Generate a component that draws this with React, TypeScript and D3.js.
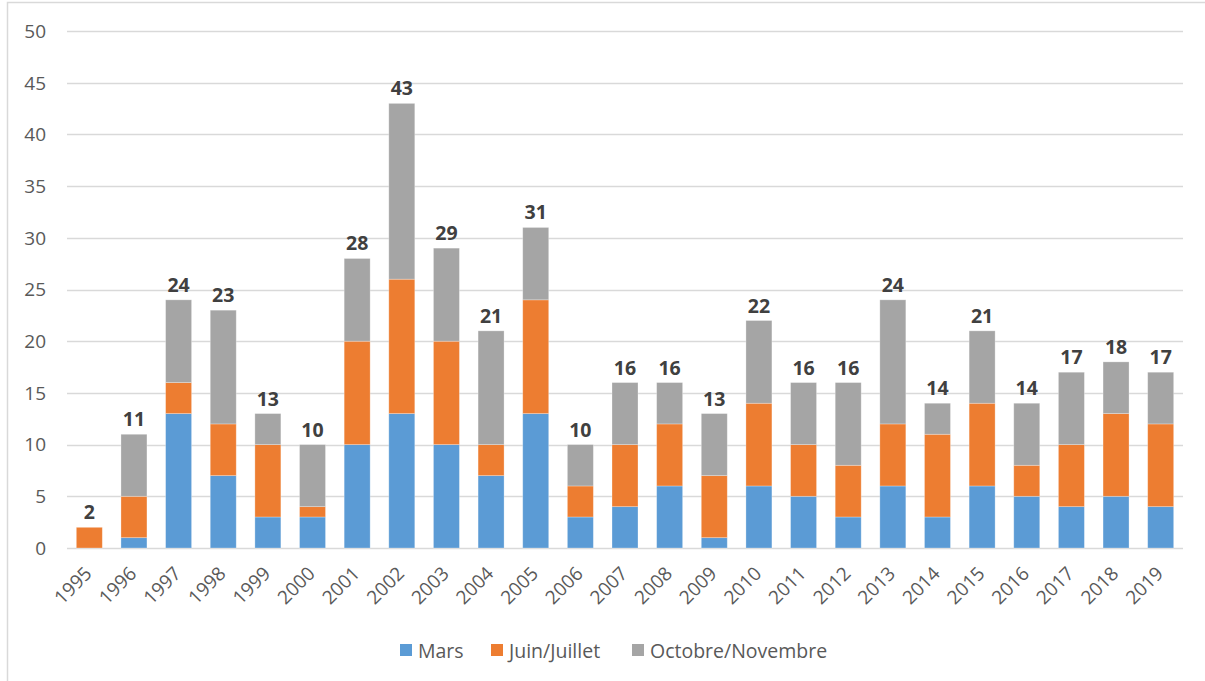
import React from "react";
import * as d3 from "d3";

const years = ["1995","1996","1997","1998","1999","2000","2001","2002","2003","2004","2005","2006","2007","2008","2009","2010","2011","2012","2013","2014","2015","2016","2017","2018","2019"];
const mars = [0,1,13,7,3,3,10,13,10,7,13,3,4,6,1,6,5,3,6,3,6,5,4,5,4];
const juin = [2,4,3,5,7,1,10,13,10,3,11,3,6,6,6,8,5,5,6,8,8,3,6,8,8];
const octobre = [0,6,8,11,3,6,8,17,9,11,7,4,6,4,6,8,6,8,12,3,7,6,7,5,5];
const seriesNames = ["Mars", "Juin/Juillet", "Octobre/Novembre"];
const seriesColors = ["#5B9BD5", "#ED7D31", "#A5A5A5"];
const yTicks = [0,5,10,15,20,25,30,35,40,45,50];

const W = 1205, H = 681;
const FONT = "'Open Sans', sans-serif";

export default function App() {
  const x = d3.scaleBand<string>().domain(years).range([67, 1183]).paddingInner(0.418).paddingOuter(0.209);
  const y = d3.scaleLinear().domain([0, 50]).range([548, 31]);
  const rows = years.map((yr, i) => ({ year: yr, m: mars[i], j: juin[i], o: octobre[i] }));
  const stack = d3.stack<any>().keys(["m", "j", "o"])(rows);
  const totals = years.map((_, i) => mars[i] + juin[i] + octobre[i]);

  const legendX = [400, 491, 632];

  return (
    <svg width={W} height={H} style={{ position: "absolute", left: 0, top: 0 }}>
      <rect x={0} y={0} width={W} height={H} fill="#fff" />
      <rect x={7.5} y={2.5} width={W + 10} height={H + 10} fill="none" stroke="#d9d9d9" strokeWidth={1.5} />
      {yTicks.map(t => (
        <g key={t}>
          <line x1={67} x2={1183} y1={Math.round(y(t)) + 0.5} y2={Math.round(y(t)) + 0.5} stroke="#d9d9d9" strokeWidth={1.3} />
          <text x={46} y={y(t)} dy="0.36em" textAnchor="end" fontFamily={FONT} fontSize={19} fill="#595959">{t}</text>
        </g>
      ))}
      {stack.map((s, si) => (
        <g key={si} fill={seriesColors[si]}>
          {s.map((d, i) => d[1] - d[0] > 0 ? (
            <rect key={i} x={x(years[i])!} width={x.bandwidth()} y={y(d[1])} height={y(d[0]) - y(d[1])} stroke="#ffffff" strokeOpacity={0.35} strokeWidth={0.8} />
          ) : null)}
        </g>
      ))}
      {years.map((yr, i) => (
        <text key={yr} x={x(yr)! + x.bandwidth() / 2} y={y(totals[i]) - 8} textAnchor="middle" fontFamily={FONT} fontWeight="bold" fontSize={19.5} fill="#404040">{totals[i]}</text>
      ))}
      {years.map(yr => (
        <text key={yr} transform={`translate(${x(yr)! + x.bandwidth() / 2 - 1},${570}) rotate(-45)`} textAnchor="end" dy="0.35em" fontFamily={FONT} fontSize={19} fill="#595959">{yr}</text>
      ))}
      {seriesNames.map((n, i) => (
        <g key={n}>
          <rect x={legendX[i]} y={644} width={12} height={12} fill={seriesColors[i]} />
          <text x={legendX[i] + 18} y={651} dy="0.36em" fontFamily={FONT} fontSize={19.5} fill="#595959">{n}</text>
        </g>
      ))}
    </svg>
  );
}
